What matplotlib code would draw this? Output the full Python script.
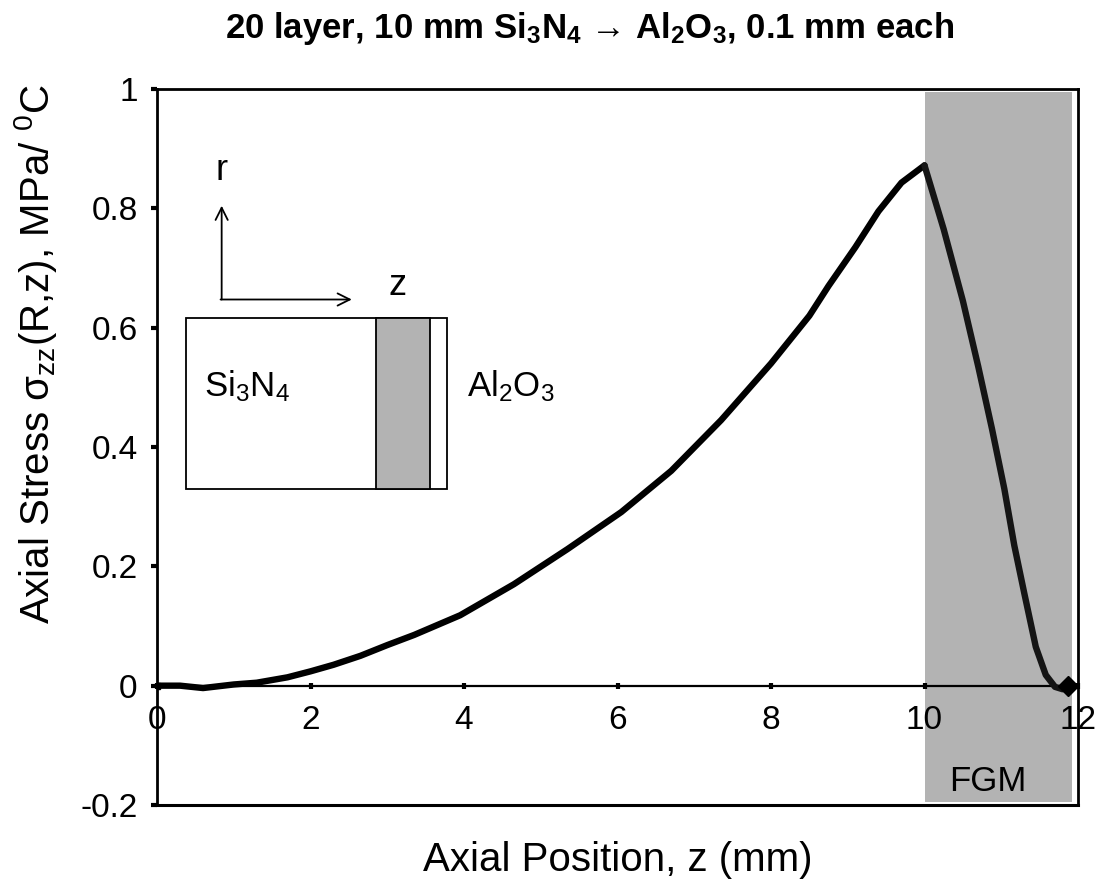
import matplotlib
matplotlib.use("Agg")
import matplotlib.pyplot as plt
from matplotlib.patches import Rectangle

plt.rcParams['font.family'] = ['Liberation Sans', 'DejaVu Sans']
plt.rcParams['mathtext.fontset'] = 'custom'
plt.rcParams['mathtext.rm'] = 'Liberation Sans'
plt.rcParams['mathtext.it'] = 'Liberation Sans:italic'
plt.rcParams['mathtext.bf'] = 'Liberation Sans:bold'

# ---- data ----
z_ceramic = [0, 0.3, 0.6, 1.0, 1.3, 1.7, 2.0, 2.3, 2.65, 3.0, 3.35, 3.95, 4.65,
             5.35, 6.05, 6.7, 7.35, 8.0, 8.5, 8.75, 9.1, 9.4, 9.7, 10.0]
s_ceramic = [0, 0.0, -0.004, 0.002, 0.005, 0.014, 0.024, 0.035, 0.05, 0.068, 0.085,
             0.118, 0.17, 0.229, 0.291, 0.36, 0.445, 0.54, 0.62, 0.67, 0.735, 0.795,
             0.843, 0.872]
z_fgm = [10.0, 10.25, 10.5, 10.7, 10.88, 11.04, 11.17, 11.3, 11.45, 11.58, 11.7,
         11.8, 11.87]
s_fgm = [0.872, 0.765, 0.645, 0.535, 0.43, 0.33, 0.235, 0.155, 0.065, 0.018,
         -0.002, -0.006, 0.0]
fgm_range = (10.0, 11.92)
xticks = [0, 2, 4, 6, 8, 10, 12]
yticks = [-0.2, 0, 0.2, 0.4, 0.6, 0.8, 1]
ytick_labels = ['-0.2', '0', '0.2', '0.4', '0.6', '0.8', '1']

fig = plt.figure(figsize=(11.15, 8.85), dpi=100)
ax = fig.add_axes([157/1115, 80/885, 921/1115, 716/885])
ax.set_xlim(0, 12)
ax.set_ylim(-0.2, 1)

gray = '#b3b3b3'
ax.axvspan(fgm_range[0], fgm_range[1], ymin=0.004, ymax=0.996, color=gray, lw=0, zorder=0)

ax.plot(z_ceramic, s_ceramic, color='black', lw=4.6, solid_capstyle='round',
        solid_joinstyle='round', zorder=3)
ax.plot(z_fgm, s_fgm, color='#151515', lw=4.6, solid_capstyle='round',
        solid_joinstyle='round', zorder=3)
ax.plot([z_ceramic[0]], [s_ceramic[0]], marker='s', ms=5, color='black', zorder=4)
ax.plot([z_fgm[-1]], [s_fgm[-1]], marker='D', ms=10, color='black', zorder=4)

# spines
for sp in ['left', 'top', 'right']:
    ax.spines[sp].set_linewidth(2)
ax.spines['bottom'].set_position(('data', 0))
ax.spines['bottom'].set_linewidth(1.6)
ax.plot([0, 1], [0, 0], transform=ax.transAxes, color='black', lw=2.2,
        clip_on=False, zorder=5)

ax.set_xticks(xticks)
ax.set_xticklabels([str(t) for t in xticks])
ax.set_yticks(yticks)
ax.set_yticklabels(ytick_labels)
ax.tick_params(axis='x', direction='inout', length=4, width=3, pad=12, labelsize=24)
ax.tick_params(axis='y', direction='out', length=4, width=3, pad=10, labelsize=24)
for lbl in ax.get_xticklabels():
    lbl.set_zorder(6)

ax.set_xlabel('Axial Position, z (mm)', fontsize=29)
ax.xaxis.label.set_va('center')
ax.xaxis.set_label_coords(0.5, -0.077)
ax.set_ylabel('Axial Stress σ$_{\\mathrm{zz}}$(R,z), MPa/ $^{\\mathrm{0}}$C', fontsize=29)
ax.yaxis.set_label_coords(-0.106, 0.63)

fig.text(0.529, 0.968,
         r'20 layer, 10 mm Si$_{\mathbf{3}}$N$_{\mathbf{4}}$ → Al$_{\mathbf{2}}$O$_{\mathbf{3}}$, 0.1 mm each',
         ha='center', va='center', fontsize=25, fontweight='bold',
         family=['Liberation Sans Narrow', 'Liberation Sans', 'DejaVu Sans'])

# ---- inset schematic ----
T = ax.transAxes
ax.add_patch(Rectangle((0.0315, 0.441), 0.2835, 0.2395, transform=T, fill=False,
                       lw=1.3, ec='black', zorder=4))
ax.add_patch(Rectangle((0.2375, 0.441), 0.0585, 0.2395, transform=T, fc=gray,
                       lw=1.3, ec='black', zorder=4))
ax.annotate('', xy=(0.0702, 0.837), xytext=(0.0702, 0.706), xycoords=T,
            arrowprops=dict(arrowstyle='->', lw=1.3, color='black',
                            mutation_scale=22, shrinkA=0, shrinkB=0))
ax.annotate('', xy=(0.2115, 0.706), xytext=(0.069, 0.706), xycoords=T,
            arrowprops=dict(arrowstyle='->', lw=1.3, color='black',
                            mutation_scale=22, shrinkA=0, shrinkB=0))
ax.text(0.0702, 0.886, 'r', transform=T, ha='center', va='center', fontsize=26)
ax.text(0.261, 0.725, 'z', transform=T, ha='center', va='center', fontsize=26)
ax.text(0.051, 0.585, r'Si$_{\mathrm{3}}$N$_{\mathrm{4}}$', transform=T, ha='left',
        va='center', fontsize=25)
ax.text(0.337, 0.585, r'Al$_{\mathrm{2}}$O$_{\mathrm{3}}$', transform=T, ha='left',
        va='center', fontsize=25)
ax.text(0.9017, 0.033, 'FGM', transform=T, ha='center', va='center', fontsize=25)

fig.savefig('out.png', dpi=100)
